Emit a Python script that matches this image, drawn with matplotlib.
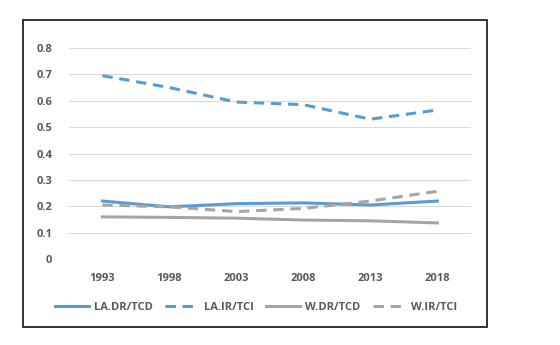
import matplotlib.pyplot as plt
from matplotlib.patches import Rectangle

years = ['1993', '1998', '2003', '2008', '2013', '2018']
la_dr = [0.22, 0.198, 0.21, 0.213, 0.205, 0.22]
la_ir = [0.695, 0.65, 0.595, 0.585, 0.53, 0.565]
w_dr = [0.16, 0.158, 0.155, 0.148, 0.145, 0.137]
w_ir = [0.205, 0.198, 0.18, 0.192, 0.22, 0.257]

blue = '#5B9BD5'
grey = '#A5A5A5'
txt = '#595959'

plt.rcParams['font.family'] = ['Open Sans', 'DejaVu Sans']

fig = plt.figure(figsize=(5.6, 3.45), dpi=100)
ax = fig.add_axes([0.123, 0.249, 0.718, 0.612])

x = range(len(years))
ax.plot(x, la_dr, color=blue, lw=2.2, label='LA.DR/TCD')
ax.plot(x, la_ir, color=blue, lw=2.2, dashes=(3.4, 2.2), label='LA.IR/TCI')
ax.plot(x, w_dr, color=grey, lw=2.2, label='W.DR/TCD')
ax.plot(x, w_ir, color=grey, lw=2.2, dashes=(3.4, 2.2), label='W.IR/TCI')

ax.set_xlim(-0.5, len(years) - 0.5)
ax.set_ylim(0, 0.8)
ax.set_xticks(list(x))
ax.set_xticklabels(years)
ax.set_yticks([i / 10 for i in range(9)])
ax.set_yticklabels(['0'] + ['%.1f' % (i / 10) for i in range(1, 9)])
ax.grid(axis='y', color='#D9D9D9', lw=0.8)
ax.set_axisbelow(True)
for s in ax.spines.values():
    s.set_visible(False)
ax.tick_params(length=0, labelsize=8, labelcolor=txt, pad=10)
for lbl in ax.get_xticklabels() + ax.get_yticklabels():
    lbl.set_fontweight('bold')
ax.tick_params(axis='y', pad=12)

leg = fig.legend(loc='center', bbox_to_anchor=(0.458, 0.11), ncol=4, frameon=False,
                 fontsize=8, handlelength=3.0, columnspacing=1.1, handletextpad=0.5)
for t in leg.get_texts():
    t.set_color(txt)
    t.set_fontweight('bold')

fig.patches.append(Rectangle((23 / 560, 1 - 327 / 345), 464 / 560, 307 / 345,
                             transform=fig.transFigure, fill=False,
                             edgecolor='#333333', lw=1.4))

fig.savefig('out.png', dpi=100)
